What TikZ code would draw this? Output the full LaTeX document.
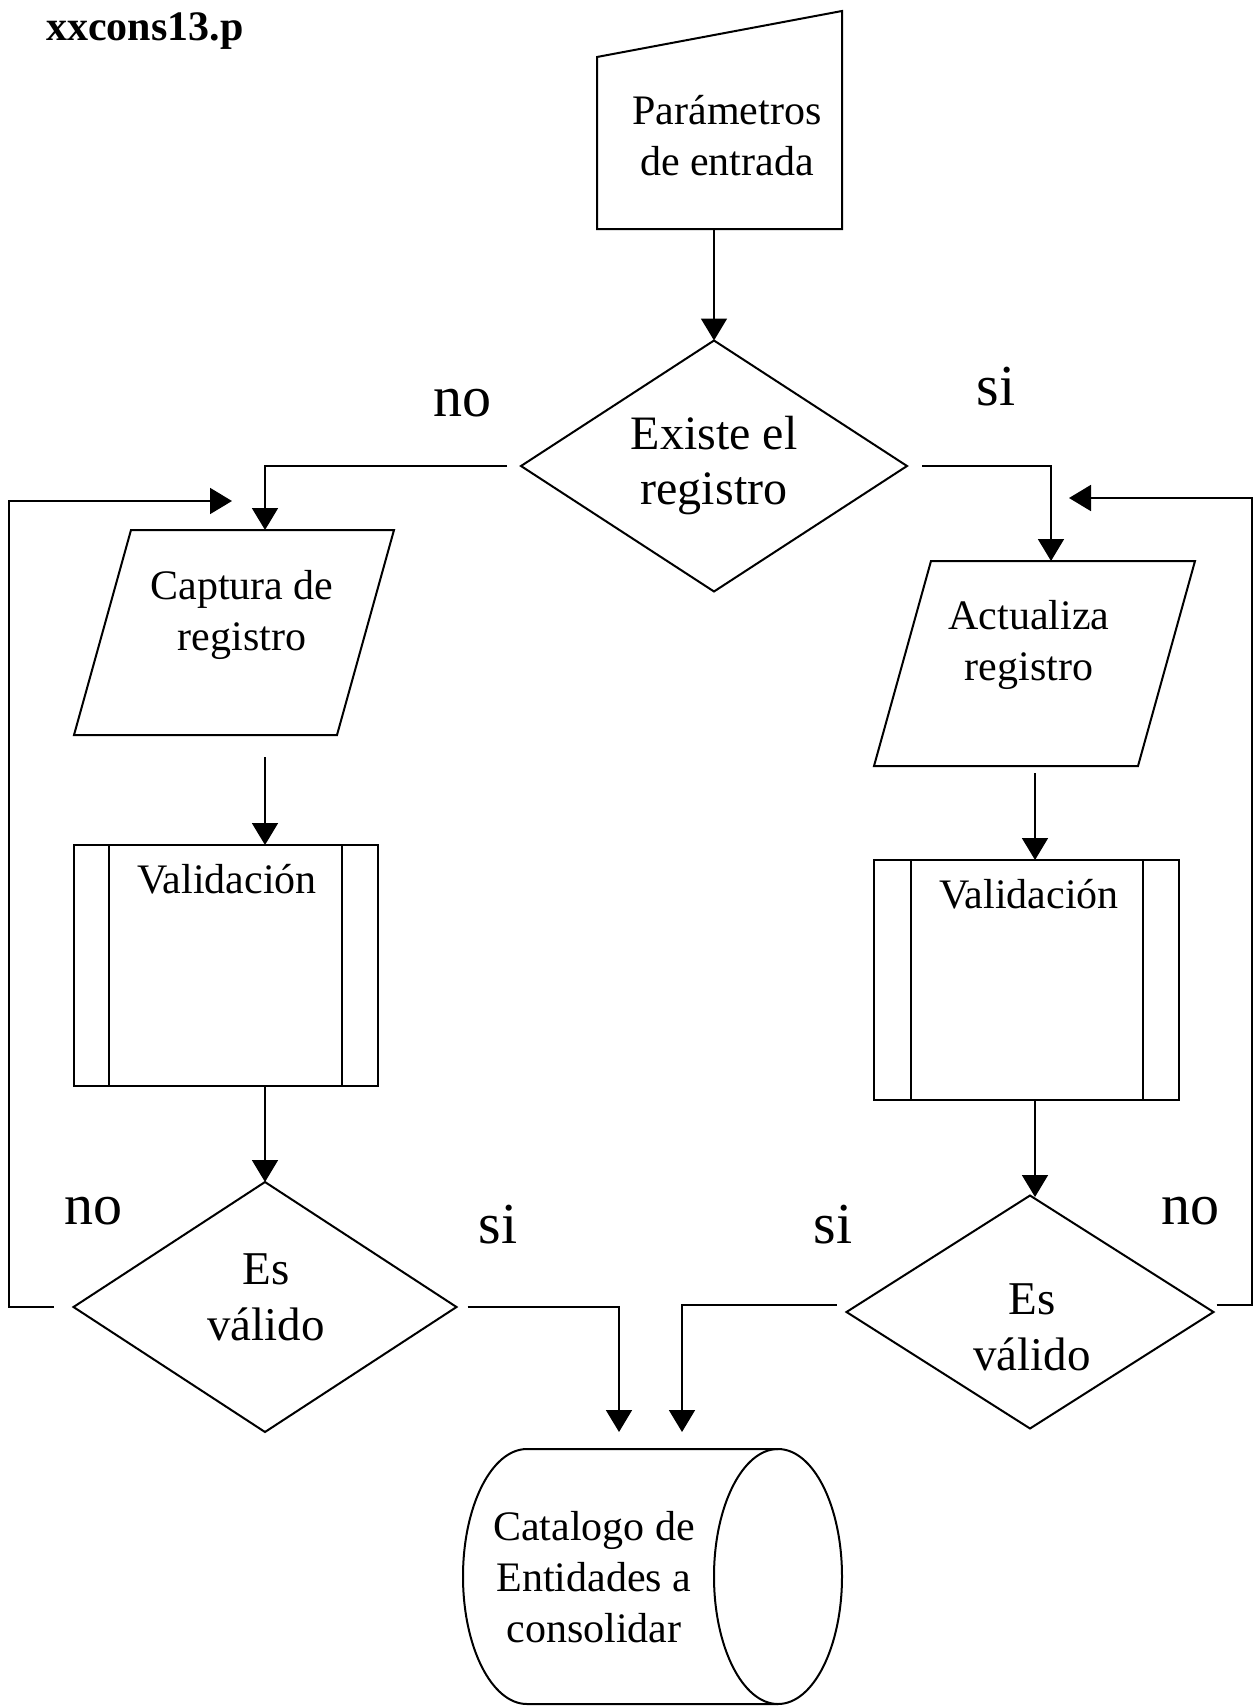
\documentclass[tikz,border=0pt]{standalone}
\usepackage{fontspec}
\setmainfont{Liberation Serif}
\usetikzlibrary{arrows.meta,calc}
\begin{document}
\begin{tikzpicture}[x=1pt,y=-1pt,
  shp/.style={line width=2pt, line join=miter},
  frame/.style={inner sep=0pt, outer sep=0pt},
  txt/.style={align=center, inner sep=0pt, font=\fontsize{42}{51}\selectfont},
  bigtxt/.style={align=center, inner sep=0pt, font=\fontsize{48}{55}\selectfont},
  esv/.style={align=center, inner sep=0pt, font=\fontsize{47}{56}\selectfont},
  lbl/.style={inner sep=0pt, font=\fontsize{58}{60}\selectfont},
  flow/.style={line width=1.8pt, -{Triangle[width=26pt,length=22pt]}},
]
\useasboundingbox (0,0) rectangle (1260,1707);

% title
\node[anchor=base west, inner sep=0pt, font=\bfseries\fontsize{42}{50}\selectfont] (title) at (46,41) {xxcons13.p};

% manual input
\node[frame, minimum width=245pt, minimum height=218pt] (mi) at (719.5,120) {};
\draw[shp] (mi.north east) -- ($(mi.north west)+(0,46)$) -- (mi.south west) -- (mi.south east) -- cycle;
\node[txt] (miT) at (727,136) {Parámetros\\de entrada};
\coordinate (mi-out) at (714,229);

% decision 1
\node[frame, minimum width=386pt, minimum height=251pt, bigtxt] (d1) at (714,466) {Existe el\\registro};
\draw[shp] (d1.north) -- (d1.east) -- (d1.south) -- (d1.west) -- cycle;

% left parallelogram
\node[frame, minimum width=320pt, minimum height=205pt] (cap) at (234,632.5) {};
\draw[shp] ($(cap.north west)+(57,0)$) -- (cap.north east) -- ($(cap.south east)+(-57,0)$) -- (cap.south west) -- cycle;
\node[txt] (capT) at (242,615) {Captura de\\registro};
\coordinate (cap-in) at (265,530);
\coordinate (cap-out) at (265,757);
\coordinate (cap-back) at (232,501);
\coordinate (loopL) at (9,501);

% right parallelogram
\node[frame, minimum width=321pt, minimum height=205pt] (act) at (1034.5,663.5) {};
\draw[shp] ($(act.north west)+(57,0)$) -- (act.north east) -- ($(act.south east)+(-57,0)$) -- (act.south west) -- cycle;
\node[txt] (actT) at (1029,645) {Actualiza\\registro};
\coordinate (act-in) at (1051,561);
\coordinate (act-out) at (1035,773);
\coordinate (act-back) at (1069,498);
\coordinate (loopR) at (1252,498);

% left Validacion
\node[draw, shp, frame, minimum width=304pt, minimum height=241pt] (v1) at (226,965.5) {};
\draw[shp] ($(v1.north west)+(35,0)$) -- ($(v1.south west)+(35,0)$);
\draw[shp] ($(v1.north east)+(-36,0)$) -- ($(v1.south east)+(-36,0)$);
\node[txt, anchor=base] (v1T) at (227,893) {Validación};
\coordinate (v1-in) at (265,845);
\coordinate (v1-out) at (265,1086);

% right Validacion
\node[draw, shp, frame, minimum width=305pt, minimum height=240pt] (v2) at (1026.5,980) {};
\draw[shp] ($(v2.north west)+(37,0)$) -- ($(v2.south west)+(37,0)$);
\draw[shp] ($(v2.north east)+(-36,0)$) -- ($(v2.south east)+(-36,0)$);
\node[txt, anchor=base] (v2T) at (1029,908) {Validación};
\coordinate (v2-in) at (1035,860);
\coordinate (v2-out) at (1035,1100);
\coordinate (d3-in) at (1035,1197);

% left decision
\node[frame, minimum width=383pt, minimum height=250pt] (d2) at (265,1307) {};
\draw[shp] (d2.north) -- (d2.east) -- (d2.south) -- (d2.west) -- cycle;
\node[esv] (d2T) at (266,1297) {Es\\válido};

% right decision
\node[frame, minimum width=367pt, minimum height=233pt] (d3) at (1030,1312) {};
\draw[shp] (d3.north) -- (d3.east) -- (d3.south) -- (d3.west) -- cycle;
\node[esv] (d3T) at (1032,1327) {Es\\válido};
\coordinate (d3-w) at ($(d3.west)+(-10,-7)$);
\coordinate (d3-e) at ($(d3.east)+(3,-7)$);

% database cylinder
\node[frame, minimum width=379pt, minimum height=255pt] (db) at (652.5,1576.5) {};
\draw[shp] ($(db.north east)+(-64,0)$) -- ($(db.north west)+(64,0)$)
  arc[start angle=-90, end angle=-270, x radius=64, y radius=127.5]
  -- ($(db.south east)+(-64,0)$);
\draw[shp] ($(db.east)+(-64,0)$) ellipse [x radius=64, y radius=127.5];
\node[txt] (dbT) at (594,1577) {Catalogo de\\Entidades a\\consolidar};
\coordinate (db-in1) at (619,1432);
\coordinate (db-in2) at (682,1432);

% labels
\node[lbl] (lno1) at (462,403) {no};
\node[lbl] (lsi1) at (996,387) {si};
\node[lbl] (lno2) at (93,1211) {no};
\node[lbl] (lsi2) at (498,1225) {si};
\node[lbl] (lsi3) at (833,1225) {si};
\node[lbl] (lno3) at (1190,1211) {no};

% connectors
\draw[flow] (mi-out) -- (d1.north);
\draw[flow, shorten <=14pt] (d1.west) -| (cap-in);
\draw[flow, shorten <=15pt] (d1.east) -| (act-in);
\draw[flow] (cap-out) -- (v1-in);
\draw[flow] (v1-out) -- (d2.north);
\draw[flow] (act-out) -- (v2-in);
\draw[flow] (v2-out) -- (d3-in);
\draw[flow, shorten <=20pt] (d2.west) -| (loopL) -- (cap-back);
\draw[flow, shorten <=11pt] (d2.east) -| (db-in1);
\draw[flow] (d3-w) -| (db-in2);
\draw[flow] (d3-e) -| (loopR) -- (act-back);
\end{tikzpicture}
\end{document}
